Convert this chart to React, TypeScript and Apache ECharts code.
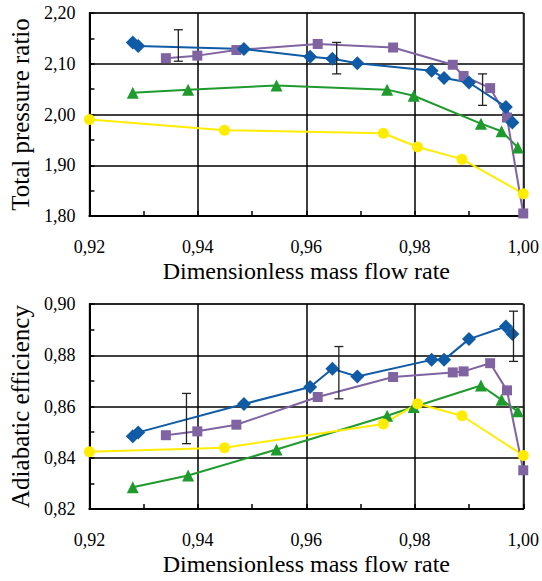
import React, { useEffect, useRef } from "react";
import * as echarts from "echarts";

// x values (dimensionless mass flow rate) per series
const blueX = [0.928, 0.929, 0.9485, 0.9607, 0.9648, 0.9694, 0.9831, 0.9854, 0.99, 0.9968, 0.998];
const purpleX = [0.9341, 0.9399, 0.9471, 0.9621, 0.976, 0.987, 0.989, 0.9939, 0.997, 1.0];
const greenX = [0.928, 0.9382, 0.9545, 0.9749, 0.9798, 0.9922, 0.996, 0.999];
const yellowX = [0.92, 0.9449, 0.9742, 0.9805, 0.9887, 1.0];

// Total pressure ratio
const bluePR = [2.142, 2.135, 2.129, 2.114, 2.11, 2.101, 2.086, 2.072, 2.063, 2.015, 1.984];
const purplePR = [2.111, 2.116, 2.127, 2.139, 2.132, 2.098, 2.076, 2.052, 1.994, 1.805];
const greenPR = [2.043, 2.049, 2.057, 2.049, 2.037, 1.982, 1.967, 1.935];
const yellowPR = [1.99, 1.969, 1.963, 1.936, 1.912, 1.844];

// Adiabatic efficiency
const blueEff = [0.8484, 0.8499, 0.861, 0.8676, 0.8747, 0.8717, 0.8782, 0.8782, 0.8863, 0.8912, 0.8883];
const purpleEff = [0.8488, 0.8503, 0.8529, 0.8637, 0.8715, 0.8733, 0.8737, 0.8769, 0.8663, 0.8351];
const greenEff = [0.8285, 0.8331, 0.8432, 0.8564, 0.8598, 0.8682, 0.8626, 0.8581];
const yellowEff = [0.8423, 0.8439, 0.8532, 0.8611, 0.8564, 0.8409];

// error bars: [x, centre, half-range]
const errPR = [
  [0.9364, 2.136, 0.031],
  [0.9656, 2.111, 0.031],
  [0.9925, 2.049, 0.031],
];
const errEff = [
  [0.9379, 0.8553, 0.0098],
  [0.966, 0.8732, 0.0102],
  [0.9982, 0.8874, 0.0098],
];

const xTitle = "Dimensionless mass flow rate";
const yTitleTop = "Total pressure ratio";
const yTitleBottom = "Adiabatic efficiency";

const FONT = "Liberation Serif";
const BLUE = "#0F5BA6";
const PURPLE = "#8064A2";
const GREEN = "#1F9A2C";
const YELLOW = "#FFEC00";

const zip = (xs: number[], ys: number[]) => xs.map((x, i) => [x, ys[i]]);
const comma = (v: number, d: number) => v.toFixed(d).replace(".", ",");

function App() {
  const ref = useRef<HTMLDivElement>(null);
  useEffect(() => {
    document.body.style.margin = "0";
    const chart = echarts.init(ref.current!, undefined, { renderer: "svg" });

    const xAxisBase = (gridIndex: number) => ({
      type: "value",
      gridIndex,
      min: 0.92,
      max: 1.0,
      interval: 0.02,
      name: xTitle,
      nameLocation: "middle",
      nameGap: 43,
      nameTextStyle: { fontFamily: FONT, fontSize: 24, color: "#000" },
      axisLine: { show: true, onZero: false, lineStyle: { color: "#000", width: 2 } },
      axisTick: { show: true, inside: true, length: 5, lineStyle: { color: "#000", width: 1.5 } },
      minorTick: { show: true, splitNumber: 2, length: 5, lineStyle: { color: "#000", width: 1.5 } },
      splitLine: { show: true, lineStyle: { color: "#000", width: 1.5 } },
      axisLabel: {
        fontFamily: FONT,
        fontSize: 18,
        color: "#000",
        margin: 22,
        formatter: (v: number) => comma(v, 2),
      },
    });

    const yAxisBase = (gridIndex: number, min: number, max: number, interval: number, dec: number, name: string) => ({
      type: "value",
      gridIndex,
      min,
      max,
      interval,
      name,
      nameLocation: "middle",
      nameGap: 49,
      nameTextStyle: { fontFamily: FONT, fontSize: 25, color: "#000" },
      axisLine: { show: true, onZero: false, lineStyle: { color: "#000", width: 2 } },
      axisTick: { show: true, inside: true, length: 5, lineStyle: { color: "#000", width: 1.5 } },
      minorTick: { show: true, splitNumber: 2, length: 5, lineStyle: { color: "#000", width: 1.5 } },
      splitLine: { show: true, lineStyle: { color: "#000", width: 1.5 } },
      axisLabel: {
        fontFamily: FONT,
        fontSize: 18,
        color: "#000",
        margin: 14,
        formatter: (v: number) => comma(v, dec),
      },
    });

    const lineSeries = (
      data: number[][],
      color: string,
      symbol: string,
      size: number,
      idx: number
    ) => ({
      type: "line",
      xAxisIndex: idx,
      yAxisIndex: idx,
      data,
      symbol,
      symbolSize: size,
      showAllSymbol: true,
      lineStyle: { color, width: 2 },
      itemStyle: { color },
      z: 3,
    });

    const errSeries = (data: number[][], idx: number) => ({
      type: "custom",
      xAxisIndex: idx,
      yAxisIndex: idx,
      data,
      z: 5,
      renderItem: (_params: any, api: any) => {
        const x = api.value(0);
        const c = api.value(1);
        const e = api.value(2);
        const top = api.coord([x, c + e]);
        const bot = api.coord([x, c - e]);
        const w = 4.5;
        const style = { stroke: "#222", lineWidth: 1.3 };
        return {
          type: "group",
          children: [
            { type: "line", shape: { x1: top[0], y1: top[1], x2: bot[0], y2: bot[1] }, style },
            { type: "line", shape: { x1: top[0] - w, y1: top[1], x2: top[0] + w, y2: top[1] }, style },
            { type: "line", shape: { x1: bot[0] - w, y1: bot[1], x2: bot[0] + w, y2: bot[1] }, style },
          ],
        };
      },
    });

    chart.setOption({
      animation: false,
      backgroundColor: "#fff",
      textStyle: { fontFamily: FONT },
      grid: [
        { left: 87, top: 13, width: 438, height: 203, show: true, borderColor: "#888", borderWidth: 1.5, backgroundColor: "transparent" },
        { left: 87, top: 304, width: 438, height: 205, show: true, borderColor: "#888", borderWidth: 1.5, backgroundColor: "transparent" },
      ],
      xAxis: [xAxisBase(0), xAxisBase(1)],
      yAxis: [
        yAxisBase(0, 1.8, 2.2, 0.1, 2, yTitleTop),
        yAxisBase(1, 0.82, 0.9, 0.02, 2, yTitleBottom),
      ],
      series: [
        lineSeries(zip(yellowX, yellowPR), YELLOW, "circle", 11, 0),
        lineSeries(zip(greenX, greenPR), GREEN, "triangle", 12, 0),
        lineSeries(zip(purpleX, purplePR), PURPLE, "rect", 10, 0),
        lineSeries(zip(blueX, bluePR), BLUE, "diamond", 14, 0),
        errSeries(errPR, 0),
        lineSeries(zip(greenX, greenEff), GREEN, "triangle", 12, 1),
        lineSeries(zip(yellowX, yellowEff), YELLOW, "circle", 11, 1),
        lineSeries(zip(purpleX, purpleEff), PURPLE, "rect", 10, 1),
        lineSeries(zip(blueX, blueEff), BLUE, "diamond", 14, 1),
        errSeries(errEff, 1),
      ],
    });
    return () => chart.dispose();
  }, []);
  return <div ref={ref} style={{ width: 542, height: 581 }} />;
}

export default App;
